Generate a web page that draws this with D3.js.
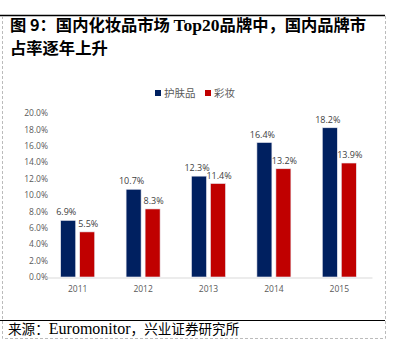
<!DOCTYPE html>
<html>
<head>
<meta charset="UTF-8">
<style>
  body { margin: 0; background: #fff; }
  svg { display: block; }
</style>
</head>
<body>
<script src="https://d3js.org/d3.v7.min.js"></script>
<script>
// chart data
var years = ["2011", "2012", "2013", "2014", "2015"];
var skincare = [6.9, 10.7, 12.3, 16.4, 18.2];
var makeup = [5.5, 8.3, 11.4, 13.2, 13.9];
var seriesNames = ["护肤品", "彩妆"];
var yTicks = [0, 2, 4, 6, 8, 10, 12, 14, 16, 18, 20];

var colors = ["#002060", "#C00000"];
var W = 397, H = 358;

var svg = d3.select("body").append("svg")
    .attr("width", W).attr("height", H);

// frame
svg.append("line").attr("x1", 0).attr("x2", 385).attr("y1", 15.5).attr("y2", 15.5)
    .attr("stroke", "#000").attr("stroke-width", 1.5);
svg.append("line").attr("x1", 0).attr("x2", 385).attr("y1", 320.5).attr("y2", 320.5)
    .attr("stroke", "#000").attr("stroke-width", 1.2);
svg.append("path")
    .attr("d", "M2.5,16 V338.5 H385.5 V16")
    .attr("fill", "none").attr("stroke", "#bbb").attr("stroke-dasharray", "3,2");

// title
var title = svg.append("g")
    .attr("font-family", "'Noto Sans CJK SC', 'Liberation Serif', serif")
    .attr("font-weight", "bold").attr("font-size", 16.3).attr("fill", "#000");
title.append("text").attr("x", 10).attr("y", 31)
    .html("图 9：国内化妆品市场 <tspan font-family=\"Liberation Serif\" font-size=\"17.5\">Top20</tspan>品牌中，国内品牌市");
title.append("text").attr("x", 10).attr("y", 54).text("占率逐年上升");

// source
var src = svg.append("text").attr("x", 8).attr("y", 334)
    .attr("font-family", "'Noto Sans CJK SC', serif").attr("font-size", 13.6).attr("fill", "#000");
src.append("tspan").text("来源：");
src.append("tspan").attr("font-family", "Liberation Serif").attr("font-size", 16).text("Euromonitor");
src.append("tspan").text("，兴业证券研究所");

// scales
var x = d3.scaleBand().domain(years).range([45, 372]);
var y = d3.scaleLinear().domain([0, 20]).range([277, 113]);

// y axis labels
var yAxis = d3.axisLeft(y).tickValues(yTicks)
    .tickFormat(function(d) { return d.toFixed(1) + "%"; })
    .tickSize(0).tickPadding(4);
var gy = svg.append("g").attr("transform", "translate(52,0)").call(yAxis);
gy.select(".domain").remove();
gy.selectAll("text").attr("font-family", "'Open Sans', 'DejaVu Sans', sans-serif")
    .attr("font-size", 8.5).attr("fill", "#595959");

// x axis
var xAxis = d3.axisBottom(x).tickSize(0).tickPadding(8);
var gx = svg.append("g").attr("transform", "translate(0,277.5)").call(xAxis);
gx.select(".domain").attr("stroke", "#d9d9d9");
gx.selectAll("text").attr("font-family", "'Open Sans', 'DejaVu Sans', sans-serif")
    .attr("font-size", 8.5).attr("fill", "#595959");

// bars
var barW = 15, gap = 4;
var series = [skincare, makeup];
series.forEach(function(vals, si) {
  var g = svg.append("g");
  g.selectAll("rect").data(vals).enter().append("rect")
    .attr("x", function(d, i) {
      var c = x(years[i]) + x.bandwidth() / 2;
      return si === 0 ? c - gap / 2 - barW : c + gap / 2;
    })
    .attr("y", function(d) { return y(d); })
    .attr("width", barW)
    .attr("height", function(d) { return y(0) - y(d); })
    .attr("fill", colors[si])
    .attr("stroke", "#e8e8f0").attr("stroke-width", 0.6);
  g.selectAll("text").data(vals).enter().append("text")
    .attr("x", function(d, i) {
      var c = x(years[i]) + x.bandwidth() / 2;
      return si === 0 ? c - gap / 2 - barW / 2 - 2 : c + gap / 2 + barW / 2 + 1;
    })
    .attr("y", function(d) { return y(d) - 5; })
    .attr("text-anchor", "middle")
    .attr("font-family", "'Open Sans', 'DejaVu Sans', sans-serif")
    .attr("font-size", 9).attr("fill", "#404040")
    .text(function(d) { return d.toFixed(1) + "%"; });
});

// legend
var legend = svg.append("g").attr("transform", "translate(155,93)");
var lx = [0, 50];
seriesNames.forEach(function(name, i) {
  legend.append("rect").attr("x", lx[i]).attr("y", -3).attr("width", 6).attr("height", 6)
    .attr("fill", colors[i]);
  legend.append("text").attr("x", lx[i] + 9).attr("y", 3.5)
    .attr("font-family", "'Noto Sans CJK SC', sans-serif")
    .attr("font-size", 10.5).attr("fill", "#595959").text(name);
});
</script>
</body>
</html>
